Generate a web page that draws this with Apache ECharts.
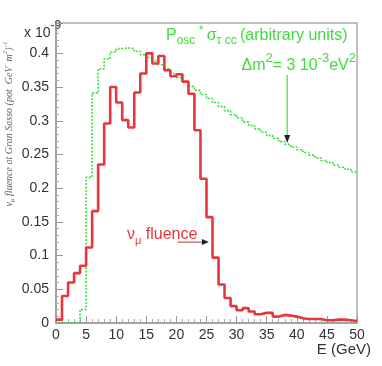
<!DOCTYPE html>
<html>
<head>
<meta charset="utf-8">
<script src="https://cdn.jsdelivr.net/npm/echarts@6/dist/echarts.min.js"></script>
<style>
    html, body { margin: 0; padding: 0; background: #fff; }
    #chart { width: 382px; height: 366px; }
</style>
</head>
<body>
<div id="chart"></div>
<script>
    // lower edge of each 1 GeV bin
    var binLow = [0,1,2,3,4,5,6,7,8,9,10,11,12,13,14,15,16,17,18,19,20,21,22,23,24,
                  25,26,27,28,29,30,31,32,33,34,35,36,37,38,39,40,41,42,43,44,45,46,47,48,49];
    var binTop = 50;

    // nu_mu fluence (x 1e-9), red histogram
    var fluence = [0.005,0.04,0.06,0.074,0.085,0.112,0.166,0.235,0.296,0.35,
                   0.327,0.301,0.29,0.342,0.37,0.4,0.385,0.396,0.375,0.366,
                   0.369,0.358,0.34,0.286,0.214,0.157,0.097,0.057,0.037,0.025,
                   0.019,0.022,0.017,0.013,0.015,0.015,0.0095,0.012,0.011,0.0095,
                   0.007,0.006,0.006,0.006,0.004,0.004,0.005,0.005,0.004,0.003];

    // P_osc * sigma_tau CC (arbitrary units), green dotted histogram
    var oscXsec = [0,0,0,0,0.02,0.216,0.341,0.377,0.392,0.402,
                   0.407,0.408,0.407,0.403,0.398,0.394,0.389,0.383,0.377,0.370,
                   0.364,0.358,0.351,0.345,0.339,0.333,0.327,0.321,0.315,0.309,
                   0.304,0.298,0.293,0.288,0.283,0.278,0.274,0.269,0.265,0.261,
                   0.257,0.253,0.249,0.245,0.241,0.238,0.234,0.231,0.228,0.224];

    var xTicks = [0,5,10,15,20,25,30,35,40,45,50];
    var yTicks = [0,0.05,0.1,0.15,0.2,0.25,0.3,0.35,0.4];

    function stepData(vals) {
        var out = binLow.map(function (e, i) { return [e, vals[i]]; });
        out.push([binTop, vals[vals.length - 1]]);
        return out;
    }

    var red = '#e8363c';
    var green = '#3fdc3f';
    var sans = 'Liberation Sans, Arial, sans-serif';

    var chart = echarts.init(document.getElementById('chart'));
    var option = {
        animation: false,
        grid: {
            left: 56, right: 25, top: 23, bottom: 43,
            show: true, borderColor: '#aaa', borderWidth: 1.5
        },
        xAxis: {
            type: 'value',
            min: xTicks[0], max: xTicks[xTicks.length - 1], interval: 5,
            axisLine: { lineStyle: { color: '#999', width: 1.5 } },
            axisTick: { inside: true, length: 7, lineStyle: { color: '#999' } },
            minorTick: { show: true, splitNumber: 5, length: 4, lineStyle: { color: '#aaa' } },
            splitLine: { show: false },
            axisLabel: { color: '#333', fontSize: 14, fontFamily: sans, margin: 5 }
        },
        yAxis: {
            type: 'value',
            min: 0, max: 0.445, interval: 0.05,
            axisLine: { show: true, lineStyle: { color: '#999', width: 1.5 } },
            axisTick: { inside: true, length: 7, lineStyle: { color: '#999' } },
            minorTick: { show: true, splitNumber: 5, length: 3, lineStyle: { color: '#aaa' } },
            splitLine: { show: false },
            axisLabel: {
                color: '#333', fontSize: 14, fontFamily: sans, margin: 7,
                formatter: function (v) {
                    var k = v / 0.05;
                    if (Math.abs(k - Math.round(k)) > 1e-6) return '';
                    return String(yTicks[Math.round(k)]);
                }
            }
        },
        series: [{
            name: 'osc',
            type: 'line',
            step: 'end',
            showSymbol: false,
            data: stepData(oscXsec),
            lineStyle: { color: green, width: 1.6, type: [2, 1.5] },
            z: 2
        }, {
            name: 'fluence',
            type: 'line',
            step: 'end',
            showSymbol: false,
            data: stepData(fluence),
            lineStyle: { color: red, width: 2.6 },
            z: 3
        }]
    };
    chart.setOption(option);

    function px(x, y) { return chart.convertToPixel({ gridIndex: 0 }, [x, y]); }

    var ga = px(38.4, 0.368), gb = px(38.4, 0.267);
    var ra = px(20.2, 0.12), rb = px(25.4, 0.12);

    chart.setOption({
        graphic: [
            // y axis title
            {
                type: 'text', x: 9, y: 124, rotation: Math.PI / 2,
                style: {
                    text: '{a|ν}{s|μ}{a| fluence at Gran Sasso (pot  GeV  m}{p|2}{a|)}{p|-1}',
                    align: 'center', verticalAlign: 'middle',
                    rich: {
                        a: { fontSize: 10, fontStyle: 'italic', fontFamily: 'Liberation Serif, serif', fill: '#666', lineHeight: 14 },
                        s: { fontSize: 7, fontStyle: 'italic', fontFamily: 'Liberation Serif, serif', fill: '#666', verticalAlign: 'bottom', lineHeight: 14 },
                        p: { fontSize: 7, fontStyle: 'italic', fontFamily: 'Liberation Serif, serif', fill: '#666', verticalAlign: 'top', lineHeight: 14 }
                    }
                }
            },
            // x 10^-9
            {
                type: 'text', x: 24, y: 30,
                style: {
                    text: '{a|x 10}{p|-9}', verticalAlign: 'middle',
                    rich: {
                        a: { fontSize: 14, fontFamily: sans, fill: '#333', lineHeight: 20, verticalAlign: 'bottom' },
                        p: { fontSize: 12, fontFamily: sans, fill: '#333', lineHeight: 20, verticalAlign: 'top' }
                    }
                }
            },
            // x axis name
            {
                type: 'text', x: 371, y: 350,
                style: { text: 'E (GeV)', align: 'right', verticalAlign: 'middle', fontSize: 15, fontFamily: sans, fill: '#333' }
            },
            // green annotation
            {
                type: 'text', x: 166, y: 36,
                style: {
                    text: '{a|P}{s|osc}{p| *} {a|σ}{s|τ cc} {a|(arbitrary units)}',
                    verticalAlign: 'middle',
                    rich: {
                        a: { fontSize: 16, fontFamily: sans, fill: green, lineHeight: 22 },
                        s: { fontSize: 12, fontFamily: sans, fill: green, lineHeight: 22, verticalAlign: 'bottom' },
                        p: { fontSize: 12, fontFamily: sans, fill: green, lineHeight: 22, verticalAlign: 'top' }
                    }
                }
            },
            {
                type: 'text', x: 356, y: 63,
                style: {
                    text: '{a|Δm}{p|2}{a|= 3 10}{p|-3}{a|eV}{p|2}',
                    align: 'right', verticalAlign: 'middle',
                    rich: {
                        a: { fontSize: 16, fontFamily: sans, fill: green, lineHeight: 22, verticalAlign: 'bottom' },
                        p: { fontSize: 13, fontFamily: sans, fill: green, lineHeight: 22, verticalAlign: 'top' }
                    }
                }
            },
            {
                type: 'line',
                shape: { x1: ga[0], y1: ga[1], x2: gb[0], y2: gb[1] - 6 },
                style: { stroke: green, lineWidth: 1.2 }
            },
            {
                type: 'polygon',
                shape: { points: [[gb[0] - 3, gb[1] - 8], [gb[0] + 3, gb[1] - 8], [gb[0], gb[1]]] },
                style: { fill: '#222' }
            },
            // red annotation
            {
                type: 'text', x: 127, y: 235,
                style: {
                    text: '{a|ν}{s|μ}{a| fluence}',
                    verticalAlign: 'middle',
                    rich: {
                        a: { fontSize: 16, fontFamily: sans, fill: red, lineHeight: 22 },
                        s: { fontSize: 11, fontFamily: sans, fill: red, lineHeight: 22, verticalAlign: 'bottom' }
                    }
                }
            },
            {
                type: 'line',
                shape: { x1: ra[0], y1: ra[1], x2: rb[0] - 5, y2: rb[1] },
                style: { stroke: '#b03030', lineWidth: 1 }
            },
            {
                type: 'polygon',
                shape: { points: [[rb[0] - 7, rb[1] - 3], [rb[0] - 7, rb[1] + 3], [rb[0], rb[1]]] },
                style: { fill: '#222' }
            }
        ]
    });
</script>
</body>
</html>
